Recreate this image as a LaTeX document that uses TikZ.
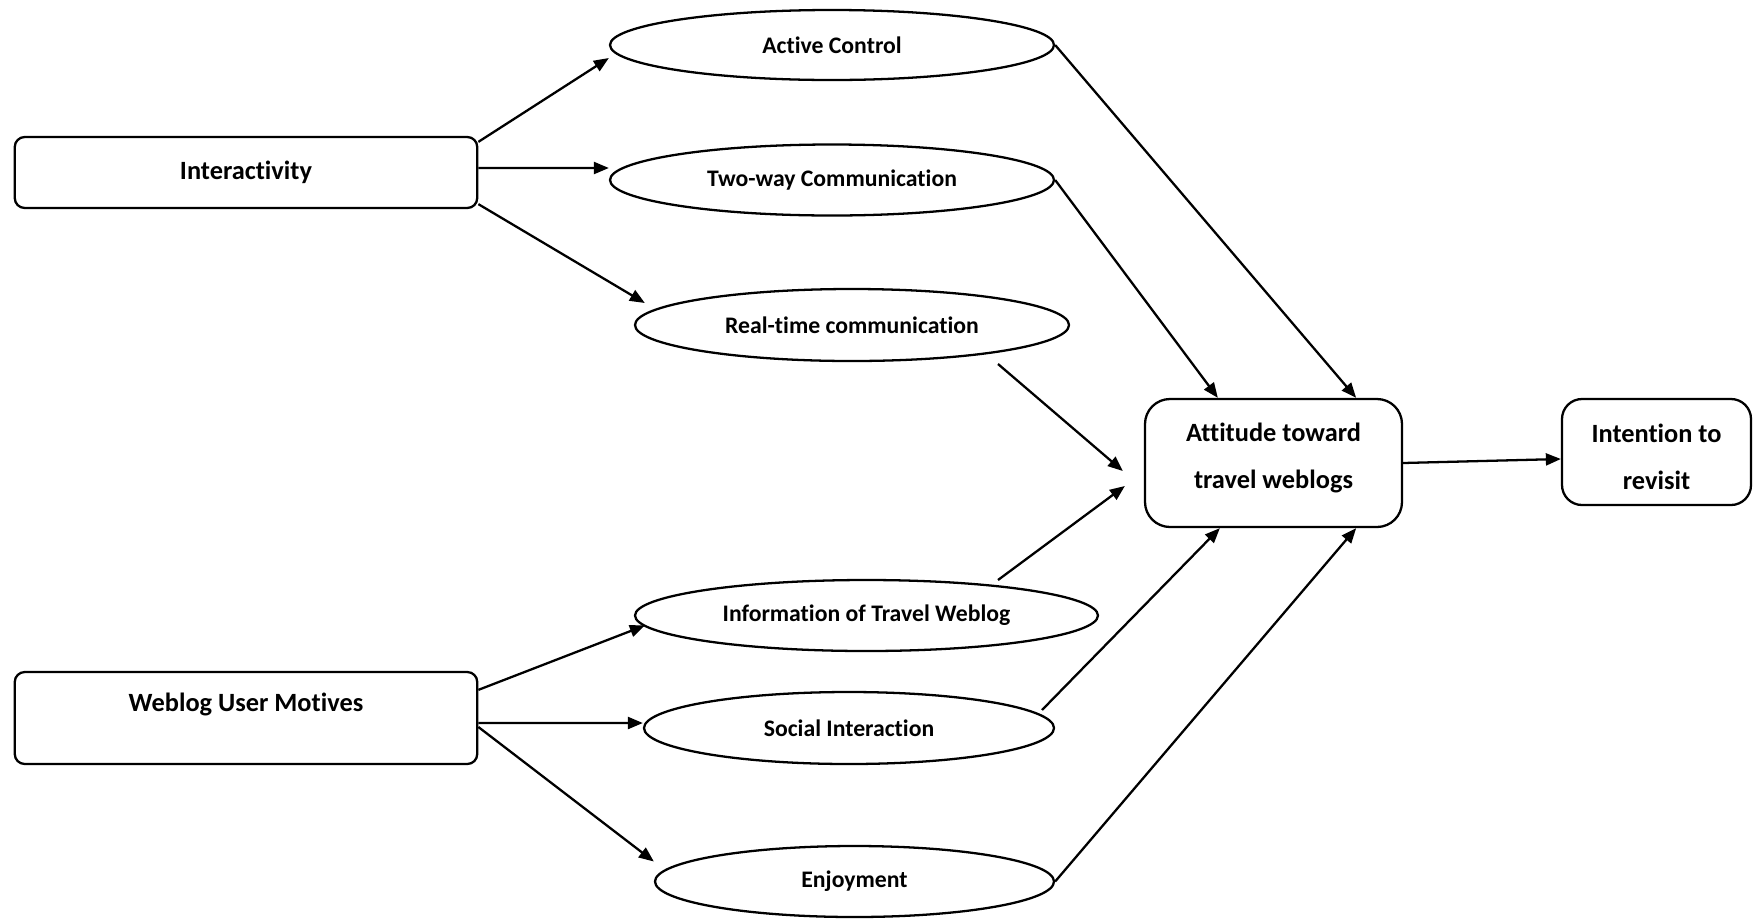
\documentclass[tikz,border=0pt]{standalone}
\usepackage{fontspec}
\setmainfont{Carlito}[Ligatures=NoCommon]
\usepackage{tikz}
\usetikzlibrary{arrows.meta,shapes.geometric}

\begin{document}
\begin{tikzpicture}[
                x=0.2mm, y=-0.2mm,
                construct/.style={draw, line width=1.3pt, rounded corners=2mm, align=center, inner sep=0pt, font=\bfseries\fontsize{15}{27}\selectfont},
                facet/.style={draw, ellipse, line width=1.3pt, align=center, inner sep=0pt, font=\bfseries\fontsize{13.5}{16}\selectfont},
                link/.style={-{Triangle[length=3mm, width=2.4mm]}, line width=1.3pt}
            ]
            \useasboundingbox (0,0) rectangle (1753,923);
            % left-hand constructs
            \node[construct, minimum width=92.5mm, minimum height=14.2mm] (inter) at (246,172.5) {Interactivity};
            \node[construct, minimum width=92.5mm, minimum height=18.4mm, text height=3.5mm, text depth=6.1mm] (motive) at (246,718) {Weblog User Motives};
            % dimensions
            \node[facet, minimum width=88.8mm, minimum height=14mm] (act) at (832,45) {Active Control};
            \node[facet, minimum width=88.8mm, minimum height=14.2mm] (two) at (832,180) {Two-way Communication};
            \node[facet, minimum width=86.8mm, minimum height=14.4mm] (real) at (852,325) {Real-time communication};
            \node[facet, minimum width=92.6mm, minimum height=14.2mm] (info) at (866.5,615.5) {Information of Travel Weblog};
            \node[facet, minimum width=82mm, minimum height=14.4mm] (social) at (849,728) {Social Interaction};
            \node[facet, minimum width=79.8mm, minimum height=14.2mm] (enjoy) at (854.5,881.5) {Enjoyment};
            % outcomes
            \node[construct, rounded corners=5mm, minimum width=51.4mm, minimum height=25.6mm] (att) at (1273.5,463) {Attitude toward\\travel weblogs\rule[-2.8mm]{0pt}{0pt}};
            \node[construct, rounded corners=4mm, minimum width=37.8mm, minimum height=21.2mm] (revisit) at (1656.5,452) {\rule{0pt}{5.6mm}Intention to\\revisit};
            % free ends of the real-time arrow
            \coordinate (rtstart) at ([xshift=29.2mm, yshift=-7.8mm]real.center);
            \coordinate (rtend) at ([xshift=-4.2mm, yshift=-1.6mm]att.west);
            \draw[link] ([yshift=-1.2mm]inter.north east) -- ([yshift=-2.6mm]act.west);
            \draw[link] ([yshift=0.9mm]inter.east) -- ([yshift=2.4mm]two.west);
            \draw[link] ([yshift=1mm]inter.south east) -- ([xshift=2.2mm, yshift=4.4mm]real.west);
            \draw[link] ([yshift=-3.8mm]motive.north east) -- ([xshift=2.2mm, yshift=-2mm]info.west);
            \draw[link] ([yshift=-1mm]motive.east) -- ([yshift=1mm]social.west);
            \draw[link] ([yshift=-1.8mm]motive.east) -- ([yshift=4mm]enjoy.west);
            \draw[link] (act.east) -- ([xshift=-9.4mm]att.north east);
            \draw[link] (two.east) -- ([xshift=14.8mm]att.north west);
            \draw[link] (rtstart) -- (rtend);
            \draw[link] ([xshift=26.3mm, yshift=7.1mm]info.center) -- ([xshift=-3.8mm, yshift=-4.6mm]att.west);
            \draw[link] ([xshift=38.6mm, yshift=3.6mm]social.center) -- ([xshift=15.2mm]att.south west);
            \draw[link] (enjoy.east) -- ([xshift=-9.4mm]att.south east);
            \draw[link] (att.east) -- ([yshift=-1.4mm]revisit.west);
        \end{tikzpicture}
\end{document}
